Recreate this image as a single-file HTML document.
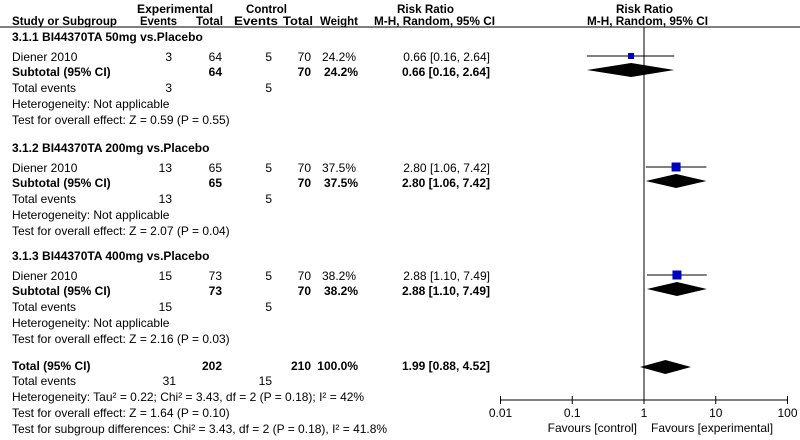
<!DOCTYPE html>
<html><head><meta charset="utf-8"><style>
body{margin:0;background:#fff}
svg{display:block;font-family:"Liberation Sans",Arial,sans-serif;font-size:12px;fill:#000}
.b{font-weight:bold}
</style></head><body>
<svg id="c" width="800" height="440" viewBox="0 0 800 440">
<g>
<text class="b" x="137" y="13" textLength="76" lengthAdjust="spacingAndGlyphs">Experimental</text>
<text class="b" x="246" y="13" textLength="41" lengthAdjust="spacingAndGlyphs">Control</text>
<text class="b" x="397" y="13" textLength="57" lengthAdjust="spacingAndGlyphs">Risk Ratio</text>
<text class="b" x="616" y="13" textLength="57" lengthAdjust="spacingAndGlyphs">Risk Ratio</text>
<text class="b" x="12" y="25" textLength="105" lengthAdjust="spacingAndGlyphs">Study or Subgroup</text>
<text class="b" x="140" y="25" textLength="37" lengthAdjust="spacingAndGlyphs">Events</text>
<text class="b" x="196" y="25" textLength="27" lengthAdjust="spacingAndGlyphs">Total</text>
<text class="b" x="234" y="25" textLength="44" lengthAdjust="spacingAndGlyphs">Events</text>
<text class="b" x="283" y="25" textLength="30" lengthAdjust="spacingAndGlyphs">Total</text>
<text class="b" x="320" y="25" textLength="38" lengthAdjust="spacingAndGlyphs">Weight</text>
<text class="b" x="374" y="25" textLength="121" lengthAdjust="spacingAndGlyphs">M-H, Random, 95% CI</text>
<text class="b" x="587" y="25" textLength="121" lengthAdjust="spacingAndGlyphs">M-H, Random, 95% CI</text>
</g>
<line x1="0" y1="27" x2="800" y2="27" stroke="#000" stroke-width="1"/>
<g id="rows"></g>
<g id="plot"></g>
</svg>
<script>
const subgroups=["3.1.1 BI44370TA 50mg vs.Placebo","3.1.2 BI44370TA 200mg vs.Placebo","3.1.3 BI44370TA 400mg vs.Placebo"];
const expEvents=[3,13,15];
const expTotal=[64,65,73];
const ctlEvents=[5,5,5];
const ctlTotal=[70,70,70];
const weights=["24.2%","37.5%","38.2%"];
const rr=[0.66,2.80,2.88];
const lo=[0.16,1.06,1.10];
const hi=[2.64,7.42,7.49];
const zText=["Z = 0.59 (P = 0.55)","Z = 2.07 (P = 0.04)","Z = 2.16 (P = 0.03)"];
const totalRR=[1.99,0.88,4.52];
const ticks=[0.01,0.1,1,10,100];
const tickLabels=["0.01","0.1","1","10","100"];

const NS="http://www.w3.org/2000/svg";
const x=v=>644+Math.log10(v)*71.75;
function mk(p,tag,at,txt){const e=document.createElementNS(NS,tag);for(const k in at)e.setAttribute(k,at[k]);if(txt!==undefined)e.textContent=txt;p.appendChild(e);return e;}
const R=document.getElementById('rows'),P=document.getElementById('plot');
const f=v=>v.toFixed(2);
const base=[41,152,260];
subgroups.forEach((s,i)=>{
 const y=base[i];
 const g=mk(R,'g',{});
 
 
 mk(g,'text',{x:12,y:y,class:'b'},s);
 mk(g,'text',{x:12,y:y+20},'Diener 2010');
 mk(g,'text',{x:172,y:y+20,'text-anchor':'end'},expEvents[i]);
 mk(g,'text',{x:222,y:y+20,'text-anchor':'end'},expTotal[i]);
 mk(g,'text',{x:272,y:y+20,'text-anchor':'end'},ctlEvents[i]);
 mk(g,'text',{x:311,y:y+20,'text-anchor':'end'},ctlTotal[i]);
 mk(g,'text',{x:356,y:y+20,'text-anchor':'end'},weights[i]);
 mk(g,'text',{x:490,y:y+20,'text-anchor':'end'},f(rr[i])+' ['+f(lo[i])+', '+f(hi[i])+']');
 mk(g,'text',{x:12,y:y+35,class:'b'},'Subtotal (95% CI)');
 mk(g,'text',{x:222,y:y+35,'text-anchor':'end',class:'b'},expTotal[i]);
 mk(g,'text',{x:311,y:y+35,'text-anchor':'end',class:'b'},ctlTotal[i]);
 mk(g,'text',{x:358,y:y+35,'text-anchor':'end',class:'b'},weights[i]);
 mk(g,'text',{x:490,y:y+35,'text-anchor':'end',class:'b'},f(rr[i])+' ['+f(lo[i])+', '+f(hi[i])+']');
 mk(g,'text',{x:12,y:y+51},'Total events');
 mk(g,'text',{x:172,y:y+51,'text-anchor':'end'},expEvents[i]);
 mk(g,'text',{x:272,y:y+51,'text-anchor':'end'},ctlEvents[i]);
 mk(g,'text',{x:12,y:y+67},'Heterogeneity: Not applicable');
 mk(g,'text',{x:12,y:y+83},'Test for overall effect: '+zText[i]);
 const cy=y+15, w=parseFloat(weights[i]), sz=w<30?6:9;
 const ci=mk(P,'line',{x1:x(lo[i]),x2:x(hi[i]),y1:cy,y2:cy,stroke:'#000','stroke-width':1});
 
 
 const sq=mk(P,'rect',{x:x(rr[i])-sz/2,y:cy-sz/2,width:sz,height:sz,fill:'#0000c0'});
 
 
 const dy=cy+14;
 const d=mk(P,'polygon',{points:`${x(lo[i])},${dy} ${x(rr[i])},${dy-7} ${x(hi[i])},${dy} ${x(rr[i])},${dy+7}`,fill:'#000'});
 
 
});
const T=mk(R,'g',{});


mk(T,'text',{x:12,y:370,class:'b'},'Total (95% CI)');
mk(T,'text',{x:222,y:370,'text-anchor':'end',class:'b'},expTotal.reduce((a,b)=>a+b,0));
mk(T,'text',{x:311,y:370,'text-anchor':'end',class:'b'},ctlTotal.reduce((a,b)=>a+b,0));
mk(T,'text',{x:358,y:370,'text-anchor':'end',class:'b'},'100.0%');
mk(T,'text',{x:490,y:370,'text-anchor':'end',class:'b'},f(totalRR[0])+' ['+f(totalRR[1])+', '+f(totalRR[2])+']');
mk(T,'text',{x:12,y:385},'Total events');
mk(T,'text',{x:176,y:385,'text-anchor':'end'},expEvents.reduce((a,b)=>a+b,0));
mk(T,'text',{x:272,y:385,'text-anchor':'end'},ctlEvents.reduce((a,b)=>a+b,0));
mk(T,'text',{x:12,y:401},'Heterogeneity: Tau² = 0.22; Chi² = 3.43, df = 2 (P = 0.18); I² = 42%');
mk(T,'text',{x:12,y:417},'Test for overall effect: Z = 1.64 (P = 0.10)');
mk(T,'text',{x:12,y:433},'Test for subgroup differences: Chi² = 3.43, df = 2 (P = 0.18), I² = 41.8%');
const td=mk(P,'polygon',{points:`${x(totalRR[1])},367 ${x(totalRR[0])},360 ${x(totalRR[2])},367 ${x(totalRR[0])},374`,fill:'#000'});


const nl=mk(P,'line',{x1:x(1),x2:x(1),y1:27,y2:400,stroke:'#000','stroke-width':1});


const ax=mk(P,'line',{x1:x(ticks[0]),x2:x(ticks[ticks.length-1]),y1:400,y2:400,stroke:'#000','stroke-width':1});


ticks.forEach((t,i)=>{
 const tk=mk(P,'line',{x1:x(t),x2:x(t),y1:396,y2:404,stroke:'#000'});
 
 
 const tl=mk(P,'text',{x:x(t),y:417,'text-anchor':'middle'},tickLabels[i]);
 
 
});
const fc=mk(P,'text',{x:x(1)-7,y:432,'text-anchor':'end'},'Favours [control]');


const fe=mk(P,'text',{x:x(1)+7,y:432},'Favours [experimental]');


</script>
</body></html>
